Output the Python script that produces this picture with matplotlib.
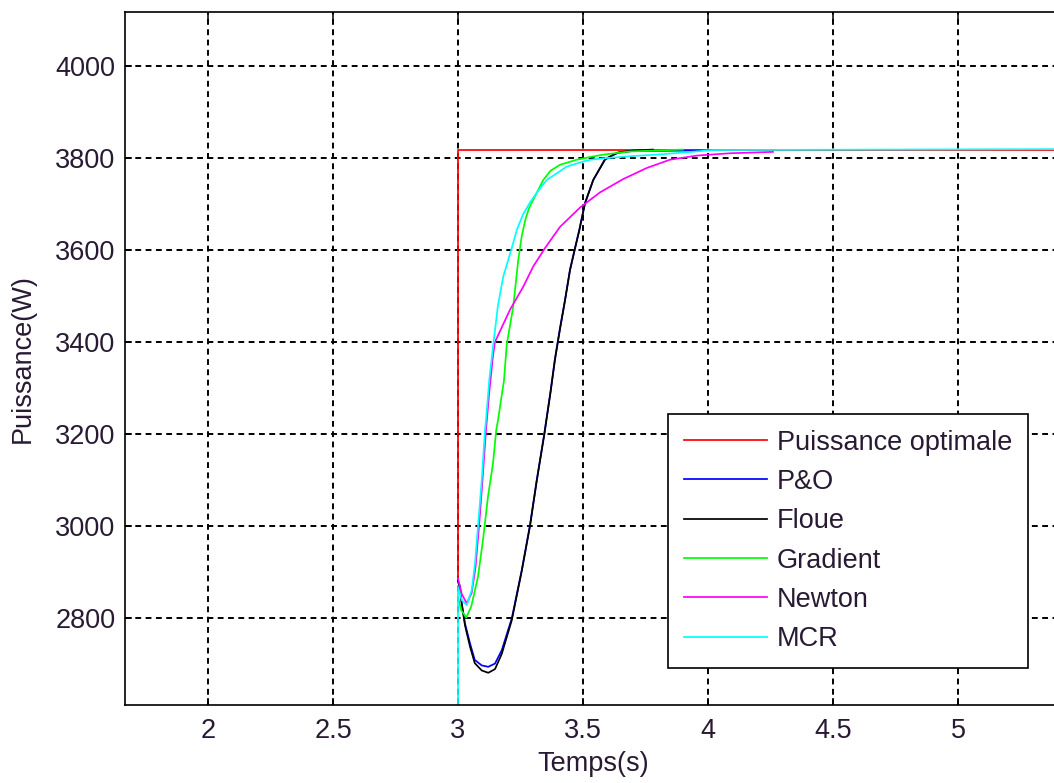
import numpy as np
import matplotlib
matplotlib.use('Agg')
import matplotlib.pyplot as plt

# ---- donnees (temps en s, puissance en W) ----
t_opt = [3.0, 3.0, 5.412]
p_opt = [2886, 3818, 3818]

t_po = [3.0, 3.008, 3.015, 3.028, 3.048, 3.067, 3.095, 3.121, 3.148, 3.175, 3.215,
        3.255, 3.288, 3.315, 3.345, 3.37, 3.388, 3.408, 3.428, 3.448, 3.468, 3.485,
        3.508, 3.541, 3.588, 3.621, 3.641, 3.70, 3.97]
p_po = [2880, 2868, 2832, 2788, 2745, 2709, 2697, 2694, 2701, 2730, 2799,
        2904, 3002, 3100, 3200, 3292, 3364, 3430, 3491, 3557, 3604, 3643,
        3702, 3752, 3796, 3806, 3811, 3815, 3816]

t_fl = [3.0, 3.008, 3.015, 3.028, 3.048, 3.067, 3.095, 3.121, 3.148, 3.175, 3.215,
        3.255, 3.288, 3.315, 3.345, 3.37, 3.388, 3.408, 3.428, 3.448, 3.468, 3.485,
        3.508, 3.541, 3.588, 3.621, 3.641, 3.70, 3.78]
p_fl = [2880, 2866, 2830, 2784, 2738, 2702, 2686, 2681, 2689, 2722, 2795,
        2902, 3000, 3098, 3198, 3290, 3362, 3428, 3490, 3556, 3603, 3642,
        3701, 3752, 3797, 3807, 3812, 3816, 3818]

t_grad = [3.0, 3.013, 3.033, 3.053, 3.08, 3.10, 3.12, 3.14, 3.153, 3.16, 3.184, 3.195,
          3.221, 3.241, 3.255, 3.27, 3.285, 3.301, 3.341, 3.37, 3.408, 3.475,
          3.53, 3.581, 3.688, 3.90]
p_grad = [2845, 2817, 2801, 2825, 2890, 2970, 3064, 3136, 3209, 3230, 3317, 3394,
          3477, 3578, 3630, 3667, 3692, 3709, 3752, 3772, 3785, 3796,
          3802, 3807, 3814, 3818]

t_newt = [3.0, 3.015, 3.035, 3.055, 3.07, 3.085, 3.098, 3.112, 3.125, 3.14, 3.148,
          3.208, 3.261, 3.301, 3.348, 3.408, 3.488, 3.568, 3.661, 3.755, 3.848,
          3.955, 4.088, 4.26]
p_newt = [2886, 2852, 2832, 2855, 2910, 3006, 3100, 3209, 3290, 3370, 3400,
          3470, 3520, 3564, 3604, 3650, 3692, 3725, 3754, 3778, 3796,
          3805, 3810, 3813]

t_mcr = [3.0, 3.0, 3.015, 3.035, 3.055, 3.068, 3.081, 3.095, 3.108, 3.112, 3.125,
         3.141, 3.16, 3.181, 3.215, 3.235, 3.26, 3.288, 3.32, 3.355, 3.435,
         3.501, 3.53, 3.581, 3.70, 3.82, 4.02, 5.412]
p_mcr = [0, 2868, 2839, 2828, 2861, 2919, 3006, 3100, 3209, 3230, 3317,
         3394, 3480, 3542, 3604, 3643, 3677, 3703, 3728, 3752, 3781,
         3792, 3796, 3799, 3804, 3808, 3817, 3819]

noms = ['Puissance optimale', 'P&O', 'Floue', 'Gradient', 'Newton', 'MCR']
# couleurs matlab pures
couleurs = [(1, 0, 0), (0, 0, 1), (0, 0, 0), (0, 1, 0), (1, 0, 1), (0, 1, 1)]

xticks = [2, 2.5, 3, 3.5, 4, 4.5, 5]
yticks = [2800, 3000, 3200, 3400, 3600, 3800, 4000]

txt = '#281a33'   # couleur du texte (style matlab)
plt.rcParams['font.family'] = ['Liberation Sans', 'DejaVu Sans']
plt.rcParams['font.size'] = 19.5

fig = plt.figure(figsize=(10.54, 7.83), dpi=100)
# l'axe depasse un peu a droite comme sur la capture
ax = fig.add_axes([125/1054, 78/783, 936/1054, 693/783])

series = [(t_opt, p_opt), (t_po, p_po), (t_fl, p_fl), (t_grad, p_grad),
          (t_newt, p_newt), (t_mcr, p_mcr)]
for i in range(len(series)):
    ax.plot(series[i][0], series[i][1], color=couleurs[i], linewidth=1.25,
            label=noms[i])

ax.set_xlim(1.668, 5.412)
ax.set_ylim(2611, 4117)
ax.set_xticks(xticks)
ax.set_xticklabels([('%g' % v) for v in xticks])
ax.set_yticks(yticks)

ax.grid(True, color='k', linestyle=(0, (3, 2.3)), linewidth=1.4)
ax.tick_params(direction='in', top=True, right=True, length=5, width=1.1,
               colors='k', labelcolor=txt, labelsize=19.5)
ax.tick_params(axis='x', pad=9)
ax.tick_params(axis='y', pad=7)
for s in ax.spines.values():
    s.set_linewidth(1.2)

ax.set_xlabel('Temps(s)', color=txt, fontsize=19.5)
ax.set_ylabel('Puissance(W)', color=txt, fontsize=19.5)
ax.xaxis.set_label_coords(0.5, -0.066)
ax.yaxis.set_label_coords(-0.095, 0.5)

leg = ax.legend(loc='upper left', bbox_to_anchor=(668/1054, 1 - 414/783),
                bbox_transform=fig.transFigure, borderaxespad=0,
                fancybox=False, framealpha=1, edgecolor='k',
                handlelength=3.07, handletextpad=0.37, borderpad=0.58,
                labelspacing=0.49, fontsize=19.5)
leg.get_frame().set_linewidth(1.2)
for t in leg.get_texts():
    t.set_color(txt)

fig.savefig('out.png', dpi=100)
